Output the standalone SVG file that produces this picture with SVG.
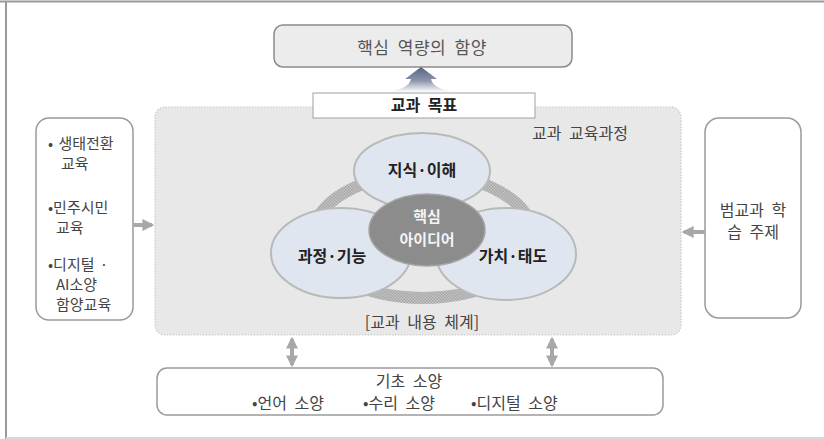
<svg xmlns="http://www.w3.org/2000/svg" width="824" height="439" viewBox="0 0 824 439">
<style>
text{font-family:"Noto Sans CJK KR","Noto Sans",sans-serif;fill:#444;font-size:16px;word-spacing:4px}
.b{font-weight:bold;fill:#222}
.c{text-anchor:middle}
.s{font-size:15px;word-spacing:2px}
.w{fill:#f4f4f4;font-size:15px}
.box{fill:#fff;stroke:#9a9a9a;stroke-width:1.5}
.ell{fill:#dfe6f0;stroke:#b9b9b9;stroke-width:2}
.conn{stroke:#a8a8a8;stroke-width:4;fill:none}
</style>
<defs>
<linearGradient id="ag" x1="0" y1="0" x2="0" y2="1">
<stop offset="0" stop-color="#56627f"/>
<stop offset="0.55" stop-color="#8c95ab"/>
<stop offset="1" stop-color="#ffffff"/>
</linearGradient>
<pattern id="dots" width="3" height="3" patternUnits="userSpaceOnUse">
<rect width="3" height="3" fill="#c4c4c4"/>
<rect width="1.5" height="1.5" fill="#a6a6a6"/>
<rect x="1.5" y="1.5" width="1.5" height="1.5" fill="#a6a6a6"/>
</pattern>
<marker id="ah" viewBox="0 0 10 10" refX="8" refY="5" markerWidth="3" markerHeight="3" orient="auto-start-reverse">
<path d="M0,0 L10,5 L0,10 Z" fill="#a8a8a8"/>
</marker>
</defs>

<g id="frame">
<line x1="0" y1="1.5" x2="824" y2="1.5" stroke="#9a9a9a" stroke-width="2"/>
<line x1="6" y1="1" x2="6" y2="439" stroke="#9a9a9a" stroke-width="2"/>
<line x1="6" y1="438" x2="824" y2="438" stroke="#d8d8d8" stroke-width="2"/>
</g>

<g id="main">
<rect x="155" y="107" width="526" height="228" rx="10" fill="#e8e8e8" stroke="#c8c8c8" stroke-width="1.2" stroke-dasharray="1.5 1.5"/>
<text x="580" y="139" class="c">교과 교육과정</text>
<text x="422" y="328" class="c">[교과 내용 체계]</text>
</g>

<g id="ring">
<ellipse cx="423" cy="236" rx="110" ry="62" fill="none" stroke="url(#dots)" stroke-width="12"/>
</g>

<g id="n-knowledge">
<ellipse class="ell" cx="422" cy="171" rx="68" ry="38"/>
<text x="422" y="176" class="c b">지식·이해</text>
</g>
<g id="n-process">
<ellipse class="ell" cx="341" cy="253" rx="70" ry="45"/>
<text x="332" y="262" class="c b">과정·기능</text>
</g>
<g id="n-value">
<ellipse class="ell" cx="506" cy="254" rx="70" ry="46"/>
<text x="513" y="262" class="c b">가치·태도</text>
</g>
<g id="n-core">
<ellipse cx="427" cy="230" rx="58" ry="36" fill="#8c8c8c" stroke="#a5a5a5" stroke-width="1.5"/>
<text x="427" y="222" class="c b w">핵심</text>
<text x="427" y="245" class="c b w">아이디어</text>
</g>

<g id="n-competency">
<rect x="274" y="25" width="298" height="42" rx="9" fill="#ececec" stroke="#8a8a8a" stroke-width="1.5"/>
<text x="422" y="54" class="c" style="font-size:17px;letter-spacing:0.5px;fill:#555">핵심 역량의 함양</text>
</g>

<g id="n-goal">
<rect x="313" y="93" width="222" height="25" fill="#fff" stroke="#a0a0a0" stroke-width="1"/>
<text x="424" y="111" class="c b">교과 목표</text>
</g>

<g id="n-left">
<rect class="box" x="36" y="118" width="97" height="202" rx="13"/>
<text class="s" x="48" y="149">• 생태전환</text>
<text class="s" x="61" y="169">교육</text>
<text class="s" x="48" y="213">•민주시민</text>
<text class="s" x="56" y="233">교육</text>
<text class="s" x="48" y="270">•디지털 ·</text>
<text class="s" x="56" y="290">AI소양</text>
<text class="s" x="56" y="310">함양교육</text>
</g>

<g id="n-right">
<rect class="box" x="705" y="118" width="96" height="200" rx="14"/>
<text x="753" y="216" class="c">범교과 학</text>
<text x="753" y="238" class="c">습 주제</text>
</g>

<g id="n-basic">
<rect class="box" x="157" y="368" width="506" height="47" rx="10"/>
<text x="409" y="387" class="c">기초 소양</text>
<text x="252" y="409">•언어 소양</text>
<text x="363" y="409">•수리 소양</text>
<text x="471" y="409">•디지털 소양</text>
</g>

<g id="connectors">
<path d="M421,67 L437,79 L431,79 Q433,89 455,92 L387,92 Q409,89 411,79 L405,79 Z" fill="url(#ag)"/>
<line class="conn" x1="133" y1="225" x2="152" y2="225" marker-end="url(#ah)"/>
<line class="conn" x1="705" y1="232" x2="684" y2="232" marker-end="url(#ah)"/>
<line class="conn" x1="292" y1="339" x2="292" y2="365" marker-start="url(#ah)" marker-end="url(#ah)"/>
<line class="conn" x1="552" y1="339" x2="552" y2="365" marker-start="url(#ah)" marker-end="url(#ah)"/>
</g>
</svg>
